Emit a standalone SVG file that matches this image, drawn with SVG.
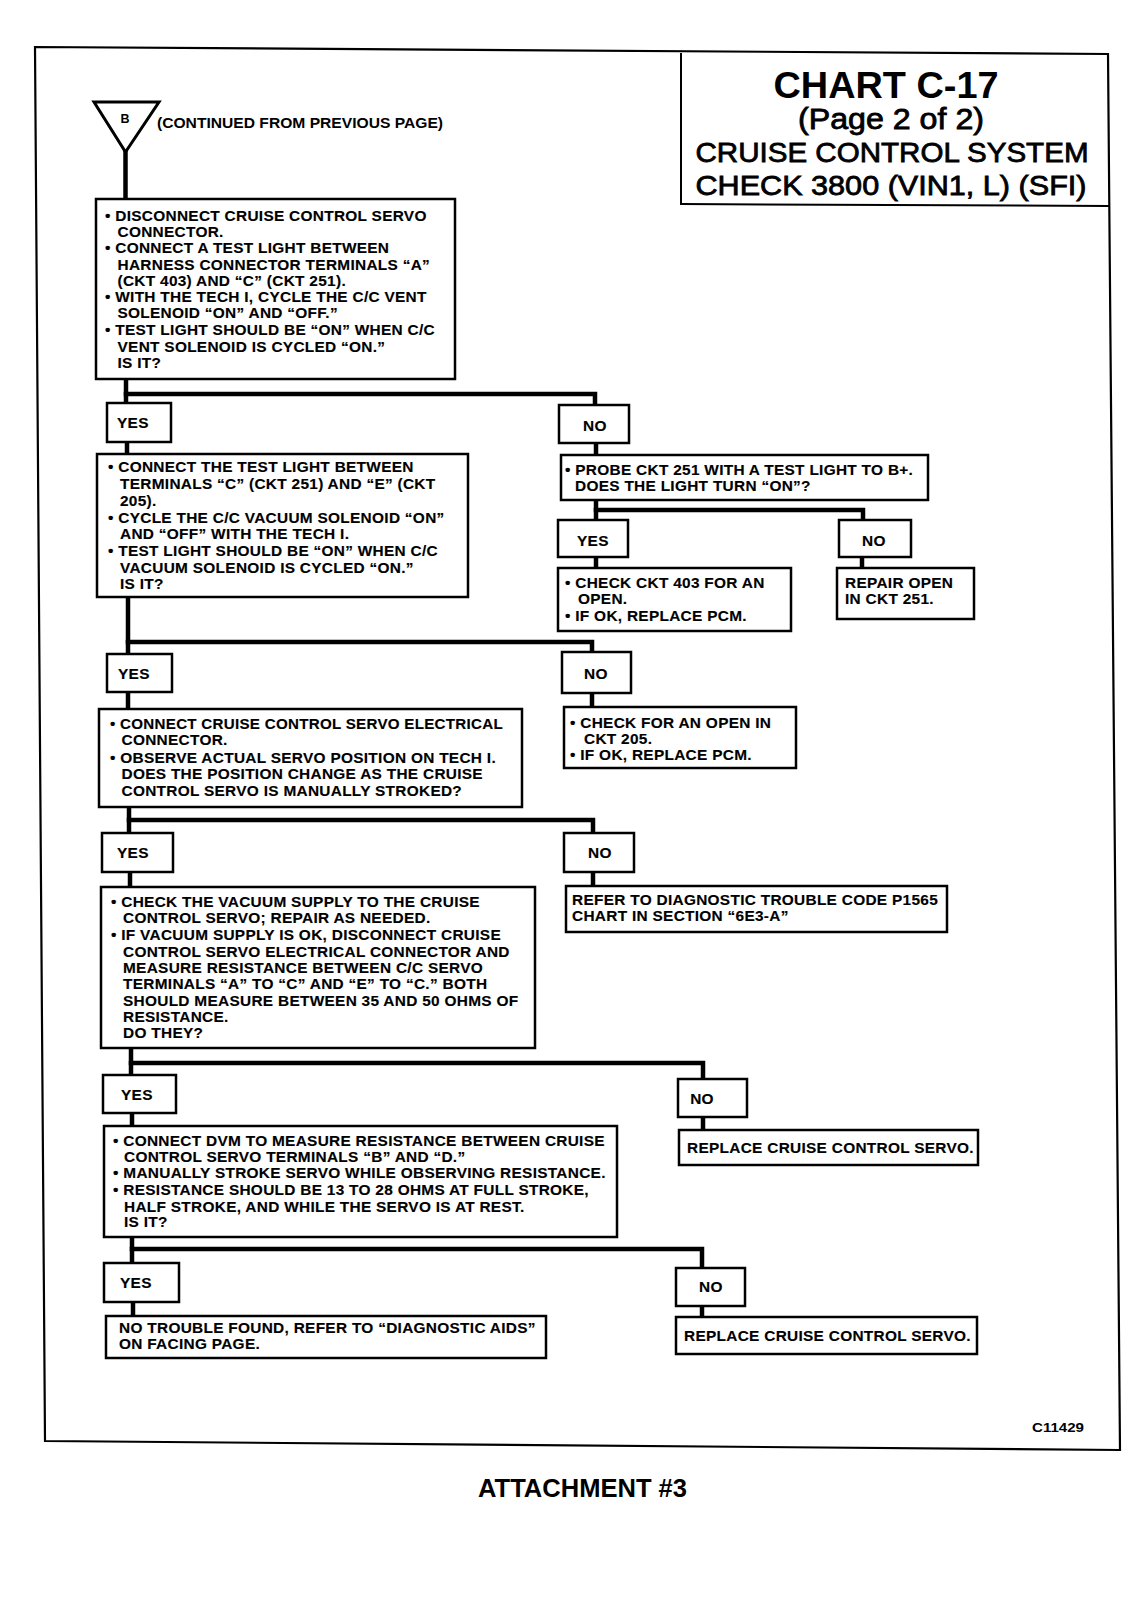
<svg xmlns="http://www.w3.org/2000/svg" width="1136" height="1600" viewBox="0 0 1136 1600">
<style>
  text { font-family: "Liberation Sans", Arial, sans-serif; font-weight: bold; fill: #000; }
  .t { font-size: 15.4px; letter-spacing: 0.3px; stroke: #000; stroke-width: 0.15; }
  .box { fill: #fff; stroke: #000; stroke-width: 2.5; }
  .frame { fill: none; stroke: #000; stroke-width: 2.2; }
  .trunk { fill: none; stroke: #000; stroke-width: 4.5; stroke-linecap: square; }
  .title { text-anchor: middle; }
  .med { font-weight: normal; stroke: #000; stroke-width: 0.8; }
</style>
<rect width="1136" height="1600" fill="#fff"/>

<g id="frame">
  <polygon class="frame" points="35,47 1108,54 1120,1450 45,1441"/>
  <line x1="681" y1="53" x2="681" y2="205" stroke="#000" stroke-width="2"/>
  <line x1="681" y1="204" x2="1109" y2="206" stroke="#000" stroke-width="2"/>
</g>

<g id="title">
  <text class="title" x="886" y="98" font-size="37" textLength="225" lengthAdjust="spacingAndGlyphs">CHART C-17</text>
  <text class="title med" x="891" y="129" font-size="29" textLength="186" lengthAdjust="spacingAndGlyphs">(Page 2 of 2)</text>
  <text class="title med" x="892" y="162" font-size="28" textLength="393" lengthAdjust="spacingAndGlyphs">CRUISE CONTROL SYSTEM</text>
  <text class="title med" x="891" y="195" font-size="28" textLength="391" lengthAdjust="spacingAndGlyphs">CHECK 3800 (VIN1, L) (SFI)</text>
</g>

<g id="connectors">
  <line class="trunk" x1="125.5" y1="150" x2="125.5" y2="199"/>
  <line class="trunk" x1="126" y1="379" x2="126" y2="403"/>
  <polyline class="trunk" points="126,394 595,394 595,405"/>
  <line class="trunk" x1="127" y1="442" x2="127" y2="454"/>
  <line class="trunk" x1="128" y1="597" x2="128" y2="654"/>
  <polyline class="trunk" points="128,642 592,642 592,652"/>
  <line class="trunk" x1="128" y1="692" x2="128" y2="709"/>
  <line class="trunk" x1="129" y1="807" x2="129" y2="833"/>
  <polyline class="trunk" points="129,820 593,820 593,833"/>
  <line class="trunk" x1="130" y1="872" x2="130" y2="887"/>
  <line class="trunk" x1="131" y1="1048" x2="131" y2="1075"/>
  <polyline class="trunk" points="131,1063 703,1063 703,1079"/>
  <line class="trunk" x1="132" y1="1113" x2="132" y2="1126"/>
  <line class="trunk" x1="132" y1="1237" x2="132" y2="1263"/>
  <polyline class="trunk" points="132,1249 702,1249 702,1268"/>
  <line class="trunk" x1="133" y1="1302" x2="133" y2="1316"/>
  <line class="trunk" x1="596" y1="443" x2="596" y2="455"/>
  <line class="trunk" x1="596" y1="500" x2="596" y2="520"/>
  <polyline class="trunk" points="596,510 863,510 863,520"/>
  <line class="trunk" x1="596" y1="557" x2="596" y2="568"/>
  <line class="trunk" x1="862" y1="557" x2="862" y2="568"/>
  <line class="trunk" x1="592" y1="693" x2="592" y2="707"/>
  <line class="trunk" x1="593" y1="872" x2="593" y2="886"/>
  <line class="trunk" x1="703" y1="1117" x2="703" y2="1130"/>
  <line class="trunk" x1="702" y1="1306" x2="702" y2="1317"/>
</g>

<g id="start">
  <polygon points="94,102 159,102 125.5,152" fill="#fff" stroke="#000" stroke-width="3"/>
  <text x="125" y="123" font-size="12.5" text-anchor="middle">B</text>
  <text x="157" y="128" font-size="14" textLength="286" lengthAdjust="spacingAndGlyphs">(CONTINUED FROM PREVIOUS PAGE)</text>
</g>

<g id="box1">
  <rect class="box" x="96" y="199" width="359" height="180"/>
  <text class="t" x="105" y="221">• DISCONNECT CRUISE CONTROL SERVO</text>
  <text class="t" x="117.5" y="237">CONNECTOR.</text>
  <text class="t" x="105" y="253">• CONNECT A TEST LIGHT BETWEEN</text>
  <text class="t" x="117.5" y="270">HARNESS CONNECTOR TERMINALS “A”</text>
  <text class="t" x="117.5" y="286">(CKT 403) AND “C” (CKT 251).</text>
  <text class="t" x="105" y="302">• WITH THE TECH I, CYCLE THE C/C VENT</text>
  <text class="t" x="117.5" y="318">SOLENOID “ON” AND “OFF.”</text>
  <text class="t" x="105" y="335">• TEST LIGHT SHOULD BE “ON” WHEN C/C</text>
  <text class="t" x="117.5" y="352">VENT SOLENOID IS CYCLED “ON.”</text>
  <text class="t" x="117.5" y="368">IS IT?</text>
</g>

<g id="yes1">
  <rect class="box" x="107" y="403" width="64" height="39"/>
  <text class="t" x="117" y="428">YES</text>
</g>
<g id="no1">
  <rect class="box" x="559" y="405" width="70" height="38"/>
  <text class="t" x="583" y="431">NO</text>
</g>

<g id="box2">
  <rect class="box" x="97" y="454" width="371" height="143"/>
  <text class="t" x="108" y="472">• CONNECT THE TEST LIGHT BETWEEN</text>
  <text class="t" x="120" y="489">TERMINALS “C” (CKT 251) AND “E” (CKT</text>
  <text class="t" x="120" y="506">205).</text>
  <text class="t" x="108" y="523">• CYCLE THE C/C VACUUM SOLENOID “ON”</text>
  <text class="t" x="120" y="539">AND “OFF” WITH THE TECH I.</text>
  <text class="t" x="108" y="556">• TEST LIGHT SHOULD BE “ON” WHEN C/C</text>
  <text class="t" x="120" y="573">VACUUM SOLENOID IS CYCLED “ON.”</text>
  <text class="t" x="120" y="589">IS IT?</text>
</g>

<g id="probe">
  <rect class="box" x="561" y="455" width="367" height="45"/>
  <text class="t" x="565" y="475">• PROBE CKT 251 WITH A TEST LIGHT TO B+.</text>
  <text class="t" x="575" y="491">DOES THE LIGHT TURN “ON”?</text>
</g>

<g id="yes1a">
  <rect class="box" x="558" y="520" width="70" height="37"/>
  <text class="t" x="577" y="546">YES</text>
</g>
<g id="no1a">
  <rect class="box" x="839" y="520" width="72" height="37"/>
  <text class="t" x="862" y="546">NO</text>
</g>

<g id="check403">
  <rect class="box" x="558" y="568" width="233" height="63"/>
  <text class="t" x="565" y="588">• CHECK CKT 403 FOR AN</text>
  <text class="t" x="578" y="604">OPEN.</text>
  <text class="t" x="565" y="621">• IF OK, REPLACE PCM.</text>
</g>

<g id="repair251">
  <rect class="box" x="837" y="568" width="137" height="51"/>
  <text class="t" x="845" y="588">REPAIR OPEN</text>
  <text class="t" x="845" y="604">IN CKT 251.</text>
</g>

<g id="yes2">
  <rect class="box" x="107" y="654" width="65" height="38"/>
  <text class="t" x="118" y="679">YES</text>
</g>
<g id="no2">
  <rect class="box" x="562" y="652" width="69" height="41"/>
  <text class="t" x="584" y="679">NO</text>
</g>

<g id="check205">
  <rect class="box" x="564" y="707" width="232" height="61"/>
  <text class="t" x="570" y="728">• CHECK FOR AN OPEN IN</text>
  <text class="t" x="584" y="744">CKT 205.</text>
  <text class="t" x="570" y="760">• IF OK, REPLACE PCM.</text>
</g>

<g id="box3">
  <rect class="box" x="99" y="709" width="423" height="98"/>
  <text class="t" x="110" y="729" textLength="393" lengthAdjust="spacingAndGlyphs">• CONNECT CRUISE CONTROL SERVO ELECTRICAL</text>
  <text class="t" x="121.5" y="745">CONNECTOR.</text>
  <text class="t" x="110" y="763">• OBSERVE ACTUAL SERVO POSITION ON TECH I.</text>
  <text class="t" x="121.5" y="779">DOES THE POSITION CHANGE AS THE CRUISE</text>
  <text class="t" x="121.5" y="796">CONTROL SERVO IS MANUALLY STROKED?</text>
</g>

<g id="yes3">
  <rect class="box" x="102" y="833" width="71" height="39"/>
  <text class="t" x="117" y="858">YES</text>
</g>
<g id="no3">
  <rect class="box" x="564" y="833" width="70" height="39"/>
  <text class="t" x="588" y="858">NO</text>
</g>

<g id="refer">
  <rect class="box" x="566" y="886" width="381" height="46"/>
  <text class="t" x="572" y="905">REFER TO DIAGNOSTIC TROUBLE CODE P1565</text>
  <text class="t" x="572" y="921">CHART IN SECTION “6E3-A”</text>
</g>

<g id="box4">
  <rect class="box" x="101" y="887" width="434" height="161"/>
  <text class="t" x="111" y="907">• CHECK THE VACUUM SUPPLY TO THE CRUISE</text>
  <text class="t" x="123" y="923">CONTROL SERVO; REPAIR AS NEEDED.</text>
  <text class="t" x="111" y="940">• IF VACUUM SUPPLY IS OK, DISCONNECT CRUISE</text>
  <text class="t" x="123" y="957">CONTROL SERVO ELECTRICAL CONNECTOR AND</text>
  <text class="t" x="123" y="973">MEASURE RESISTANCE BETWEEN C/C SERVO</text>
  <text class="t" x="123" y="989">TERMINALS “A” TO “C” AND “E” TO “C.” BOTH</text>
  <text class="t" x="123" y="1006">SHOULD MEASURE BETWEEN 35 AND 50 OHMS OF</text>
  <text class="t" x="123" y="1022">RESISTANCE.</text>
  <text class="t" x="123" y="1038">DO THEY?</text>
</g>

<g id="yes4">
  <rect class="box" x="103" y="1075" width="73" height="38"/>
  <text class="t" x="121" y="1100">YES</text>
</g>
<g id="no4">
  <rect class="box" x="678" y="1079" width="69" height="38"/>
  <text class="t" x="702" y="1104" text-anchor="middle">NO</text>
</g>

<g id="replace1">
  <rect class="box" x="679" y="1130" width="299" height="35"/>
  <text class="t" x="687" y="1153">REPLACE CRUISE CONTROL SERVO.</text>
</g>

<g id="box5">
  <rect class="box" x="104" y="1126" width="513" height="111"/>
  <text class="t" x="113" y="1146">• CONNECT DVM TO MEASURE RESISTANCE BETWEEN CRUISE</text>
  <text class="t" x="124" y="1162">CONTROL SERVO TERMINALS “B” AND “D.”</text>
  <text class="t" x="113" y="1178">• MANUALLY STROKE SERVO WHILE OBSERVING RESISTANCE.</text>
  <text class="t" x="113" y="1195">• RESISTANCE SHOULD BE 13 TO 28 OHMS AT FULL STROKE,</text>
  <text class="t" x="124" y="1212">HALF STROKE, AND WHILE THE SERVO IS AT REST.</text>
  <text class="t" x="124" y="1227">IS IT?</text>
</g>

<g id="yes5">
  <rect class="box" x="104" y="1263" width="75" height="39"/>
  <text class="t" x="120" y="1288">YES</text>
</g>
<g id="no5">
  <rect class="box" x="676" y="1268" width="69" height="38"/>
  <text class="t" x="699" y="1292">NO</text>
</g>

<g id="nofault">
  <rect class="box" x="106" y="1316" width="440" height="42"/>
  <text class="t" x="119" y="1333">NO TROUBLE FOUND, REFER TO “DIAGNOSTIC AIDS”</text>
  <text class="t" x="119" y="1349">ON FACING PAGE.</text>
</g>

<g id="replace2">
  <rect class="box" x="676" y="1317" width="301" height="37"/>
  <text class="t" x="684" y="1341">REPLACE CRUISE CONTROL SERVO.</text>
</g>

<g id="footer">
  <text x="1032" y="1432" font-size="13" textLength="52" lengthAdjust="spacingAndGlyphs">C11429</text>
  <text x="478" y="1497" font-size="25" textLength="209" lengthAdjust="spacingAndGlyphs">ATTACHMENT #3</text>
</g>
</svg>
